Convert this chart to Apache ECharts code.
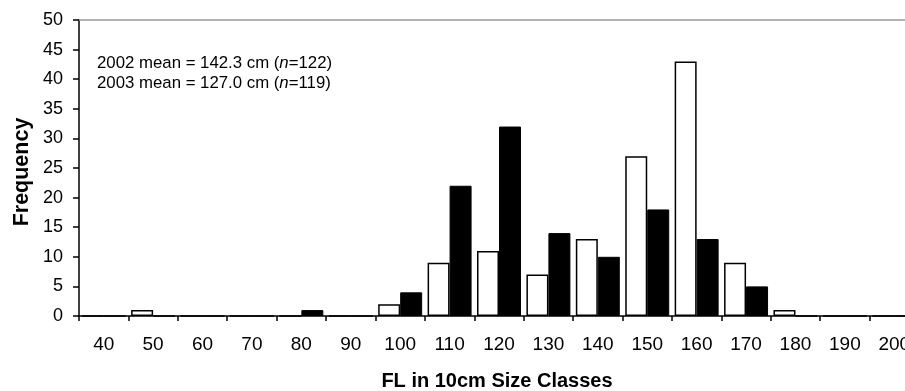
<!DOCTYPE html>
<html><head><meta charset="utf-8">
<script src="https://cdn.jsdelivr.net/npm/echarts@6/dist/echarts.min.js"></script>
<style>html,body{margin:0;padding:0;background:#fff;overflow:hidden}#c{width:905px;height:391px}</style>
</head><body><div id="c"></div>
<script>
var categories = ['40','50','60','70','80','90','100','110','120','130','140','150','160','170','180','190','200'];
var values2002 = [0,1,0,0,0,0,2,9,11,7,13,27,43,9,1,0,0];
var values2003 = [0,0,0,0,1,0,4,22,32,14,10,18,13,5,0,0,0];
var yTicks = {min:0, max:50, interval:5};

var chart = echarts.init(document.getElementById('c'), null, {renderer:'canvas'});
var font = 'Liberation Sans, Arial, sans-serif';
chart.setOption({
  animation:false,
  grid:{left:79, top:20, height:296, width:840, containLabel:false, outerBoundsMode:'none'},
  xAxis:[{
    type:'category', data:categories,
    axisLine:{lineStyle:{color:'#000', width:1.5}},
    axisTick:{show:true, alignWithLabel:false, length:5, interval:0, lineStyle:{color:'#000', width:1.5}},
    axisLabel:{interval:0, color:'#000', fontFamily:font, fontSize:19, margin:19, hideOverlap:false},
    splitLine:{show:false}
  },{
    type:'category', data:categories, position:'top',
    axisLine:{lineStyle:{color:'#999', width:1.5}},
    axisTick:{show:false}, axisLabel:{show:false}
  }],
  yAxis:{
    type:'value', min:yTicks.min, max:yTicks.max, interval:yTicks.interval,
    axisLine:{show:true, lineStyle:{color:'#000', width:1.5}},
    axisTick:{show:true, length:6, lineStyle:{color:'#000', width:1.5}},
    axisLabel:{color:'#000', fontFamily:font, fontSize:18, margin:16},
    splitLine:{show:false}
  },
  series:[{
    name:'2002', type:'bar', data:values2002, barGap:'0%', barCategoryGap:'11%',
    itemStyle:{color:'#fff', borderColor:'#000', borderWidth:1.5}
  },{
    name:'2003', type:'bar', data:values2003,
    itemStyle:{color:'#000', borderColor:'#000', borderWidth:1}
  }],
  graphic:[
    {type:'text', left:97, top:55, style:{rich:{a:{fontFamily:font,fontSize:16.8,fill:'#000'},i:{fontFamily:font,fontSize:16.8,fontStyle:'italic',fill:'#000'}}, text:'{a|2002 mean = 142.3 cm (}{i|n}{a|=122)}'}},
    {type:'text', left:97, top:75, style:{rich:{a:{fontFamily:font,fontSize:16.8,fill:'#000'},i:{fontFamily:font,fontSize:16.8,fontStyle:'italic',fill:'#000'}}, text:'{a|2003 mean = 127.0 cm (}{i|n}{a|=119)}'}},
    {type:'text', x:497, y:381, style:{text:'FL in 10cm Size Classes', font:'bold 20px Liberation Sans, Arial, sans-serif', fill:'#000', align:'center', verticalAlign:'middle'}},
    {type:'text', x:22, y:172, rotation:Math.PI/2, style:{text:'Frequency', font:'bold 21.5px Liberation Sans, Arial, sans-serif', fill:'#000', align:'center', verticalAlign:'middle'}}
  ]
});
</script></body></html>
